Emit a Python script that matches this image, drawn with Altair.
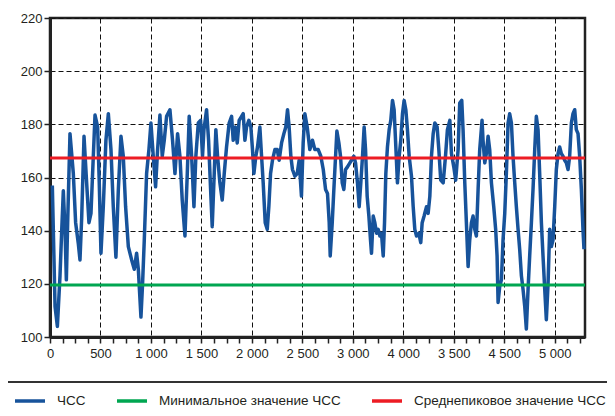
import altair as alt
import pandas as pd

# --- data ---
hr_x = [23, 50, 73, 99, 116, 132, 149, 162, 175, 198, 231, 254, 281, 297, 314, 337, 363, 386, 406, 422,
        446, 472, 488, 505, 528, 554, 578, 604, 627, 653, 677, 703, 726, 749, 776, 809, 835, 858, 875, 901,
        917, 934, 957, 980, 1000, 1023, 1046, 1066, 1089, 1112, 1132, 1155, 1188, 1214, 1238, 1264, 1287, 1310,
        1337, 1360, 1379, 1403, 1426, 1445, 1469, 1492, 1511, 1525, 1551, 1571, 1591, 1607, 1627, 1643, 1660,
        1683, 1706, 1726, 1749, 1775, 1799, 1815, 1835, 1855, 1874, 1898, 1914, 1931, 1947, 1970, 1990, 2006,
        2020, 2039, 2056, 2079, 2096, 2112, 2132, 2152, 2168, 2185, 2204, 2228, 2251, 2270, 2294, 2317, 2336,
        2353, 2369, 2386, 2402, 2426, 2449, 2468, 2491, 2508, 2525, 2548, 2574, 2600, 2624,
        2657, 2683, 2707, 2730, 2749, 2766, 2776, 2796, 2812, 2829, 2842, 2862, 2878, 2895, 2911, 2928, 2947,
        2971, 2987, 3010, 3027, 3046, 3063, 3079, 3096, 3112, 3126, 3142, 3159, 3175, 3185, 3202, 3218, 3235,
        3251, 3268, 3284, 3301, 3314, 3327, 3343, 3360, 3376, 3393, 3409, 3423, 3442, 3459, 3475, 3492, 3508,
        3525, 3541, 3558, 3581, 3598, 3614, 3631, 3654, 3673, 3687, 3706, 3730, 3746, 3763, 3779, 3796, 3812,
        3835, 3852, 3871, 3895, 3918, 3937, 3961,
        3977, 4000, 4019, 4043, 4059, 4079, 4092, 4109, 4125, 4142, 4158, 4175, 4191, 4208, 4224, 4241, 4257,
        4280, 4290, 4307, 4323, 4340, 4356, 4373, 4396, 4415, 4429, 4439, 4455, 4472, 4488, 4505, 4521, 4538,
        4554, 4571, 4587, 4604, 4620, 4637, 4653, 4670, 4686, 4703, 4719, 4736, 4752, 4769, 4785, 4802, 4818,
        4835, 4851, 4868, 4884, 4901, 4917, 4934, 4950, 4967, 4983, 5000, 5016, 5033, 5049, 5066, 5082, 5099,
        5115, 5132, 5148, 5165, 5181, 5198, 5214, 5231, 5247, 5264, 5280, 5290]
hr_y = [157, 111.5, 104, 123, 140, 155, 140, 121.5, 143, 176.5, 161.5, 143, 135, 129, 145, 175.5, 158, 143, 146.5, 161.5,
        183.5, 179, 158, 131.5, 149, 174, 184, 170.5, 149, 130, 155.5, 175.5, 168, 149, 134, 129, 125.5, 131.5, 125.5, 107.5,
        120, 136.5, 161.5, 170.5, 180.5, 168, 156.5, 170.5, 183.5, 168, 174, 183, 185.5, 174, 161.5, 176.5, 168, 151.5,
        138, 161.5, 183, 168, 149, 168, 180.5, 181.5, 168, 178, 185.5, 174, 155.5, 141.5, 161.5, 178, 168,
        158, 151.5, 161.5, 171.5, 180.5, 183, 174, 179, 173, 181.5, 183, 184, 174, 179, 181.5, 179, 170.5,
        161.5, 168, 171.5, 179, 168, 158, 143, 140.5, 149, 161.5, 166.5, 170.5, 170.5, 166.5, 173, 176.5, 179,
        185.5, 179, 168, 163, 160.5, 161.5, 166.5, 153, 173, 184, 179, 170.5, 174, 170.5,
        170.5, 168, 163, 155.5, 154, 143, 130.5, 143, 155.5, 168, 177.5, 173, 168, 158, 155.5, 163, 164,
        165.5, 166.5, 168, 165.5, 158, 149, 158, 168, 179, 170.5, 153, 145.5, 136.5, 131.5, 145.5, 143, 139,
        140.5, 138, 139, 130.5, 143, 161.5, 171.5, 178, 181.5, 189, 185.5, 174, 158, 168, 174, 184, 189,
        185.5, 178, 168, 160.5, 149, 140.5, 138, 139, 135.5, 143, 145.5, 149, 146.5, 153, 168, 176.5, 180.5,
        179, 170.5, 159, 158, 168, 178, 181.5,
        169, 164, 159, 170.5, 188, 189, 178, 158, 143, 126.5, 136.5, 143, 145.5, 140.5, 138, 155.5, 170.5,
        181.5, 174, 165.5, 169, 175.5, 170.5, 158, 149, 140.5, 130.5, 113, 119, 121.5, 136.5, 146.5, 161.5, 180.5,
        184, 180.5, 168, 158, 149, 140.5, 133, 123, 118, 111.5, 103, 118, 130.5, 143, 155.5, 170.5, 183,
        178, 161.5, 143, 130.5, 118, 106.5, 120, 140.5, 134, 136.5, 149, 163, 169, 171.5, 169, 168, 166.5,
        165.5, 163, 168, 180.5, 184, 185.5, 178, 176.5, 168, 155.5, 140.5, 133]

series_names = ["ЧСС", "Минимальное значение ЧСС", "Среднепиковое значение ЧСС"]
series_colors = ["#17539b", "#00a651", "#ed1c24"]
ref_names = ["Минимальное значение ЧСС", "Среднепиковое значение ЧСС"]
ref_values = [119.6, 167.3]

y_major = [100, 120, 140, 160, 180, 200, 220]
y_minor = list(range(100, 221, 5))
x_minor = list(range(0, 5300, 125))
x_label_values = [0, 500, 1000, 1500, 2000, 2500, 3000, 3500, 4000, 4500, 5000]
x_label_texts = ["0", "500", "1 000", "1 500", "2 000", "2 500", "3 000", "4 000", "3 500", "4 500", "5 000"]

FONT = "Liberation Sans, Arial, sans-serif"
TXT = "#231f20"

line_df = pd.DataFrame({"x": hr_x, "y": hr_y, "series": "ЧСС"})
ref_df = pd.DataFrame({"series": ref_names, "value": ref_values})

xv = "[" + ",".join(str(v) for v in x_label_values) + "]"
xt = "[" + ",".join("'" + t + "'" for t in x_label_texts) + "]"
x_label_expr = f"indexof({xv}, datum.value) >= 0 ? {xt}[indexof({xv}, datum.value)] : ''"
ymv = "[" + ",".join(str(v) for v in y_major) + "]"
y_label_expr = f"indexof({ymv}, datum.value) >= 0 ? datum.label : ''"

x_scale = alt.Scale(domain=[0, 5300], nice=False, zero=False)
y_scale = alt.Scale(domain=[100, 220], nice=False, zero=False)

color = alt.Color(
    "series:N",
    scale=alt.Scale(domain=series_names, range=series_colors),
    legend=alt.Legend(
        title=None,
        orient="none",
        legendX=-45,
        legendY=364,
        direction="horizontal",
        columns=3,
        symbolType="stroke",
        symbolSize=900,
        symbolStrokeWidth=3.5,
        symbolOffset=6,
        labelFont=FONT,
        labelFontSize=13.5,
        labelColor=TXT,
        labelOffset=10,
        labelLimit=400,
        columnPadding=23,
        padding=2,
        strokeColor="#333333",
        fillColor="white",
    ),
)

x_axis = alt.Axis(
    title=None,
    values=x_minor,
    labelExpr=x_label_expr,
    labelOverlap=False,
    labelFlush=False,
    labelFont=FONT,
    labelFontSize=13,
    labelColor=TXT,
    labelPadding=4,
    tickSize=6,
    tickColor="#222222",
    tickWidth=1.5,
    domainColor="#222222",
    domainWidth=3,
    grid=True,
    gridColor="#111111",
    gridWidth=1,
    gridDash=[5, 3],
    gridOpacity={"condition": {"test": "datum.value % 500 === 0", "value": 1}, "value": 0},
)
y_axis = alt.Axis(
    title=None,
    values=y_minor,
    labelExpr=y_label_expr,
    labelOverlap=False,
    labelFlush=False,
    labelFont=FONT,
    labelFontSize=13,
    labelColor=TXT,
    labelPadding=2,
    tickSize=6,
    tickColor="#222222",
    tickWidth=1.5,
    domainColor="#222222",
    domainWidth=3,
    grid=True,
    gridColor="#111111",
    gridWidth=1,
    gridDash=[5, 3],
    gridOpacity={"condition": {"test": "datum.value % 20 === 0", "value": 1}, "value": 0},
)

hr_line = alt.Chart(line_df).mark_line(strokeWidth=3.5, strokeJoin="round").encode(
    x=alt.X("x:Q", scale=x_scale, axis=x_axis),
    y=alt.Y("y:Q", scale=y_scale, axis=y_axis),
    color=color,
)

ref_rules = alt.Chart(ref_df).mark_rule(strokeWidth=3).encode(
    y=alt.Y("value:Q", scale=y_scale),
    color=alt.Color("series:N"),
)

chart = (
    alt.layer(hr_line, ref_rules)
    .properties(
        width=535,
        height=319,
        autosize=alt.AutoSizeParams(type="none"),
        padding={"left": 42, "top": 10, "right": 22, "bottom": 71},
        background="white",
    )
    .configure_view(stroke="#222222", strokeWidth=2.5)
    .configure_legend(strokeWidth=2)
)

chart.save("out.html", embed_options={"renderer": "svg", "actions": False})
